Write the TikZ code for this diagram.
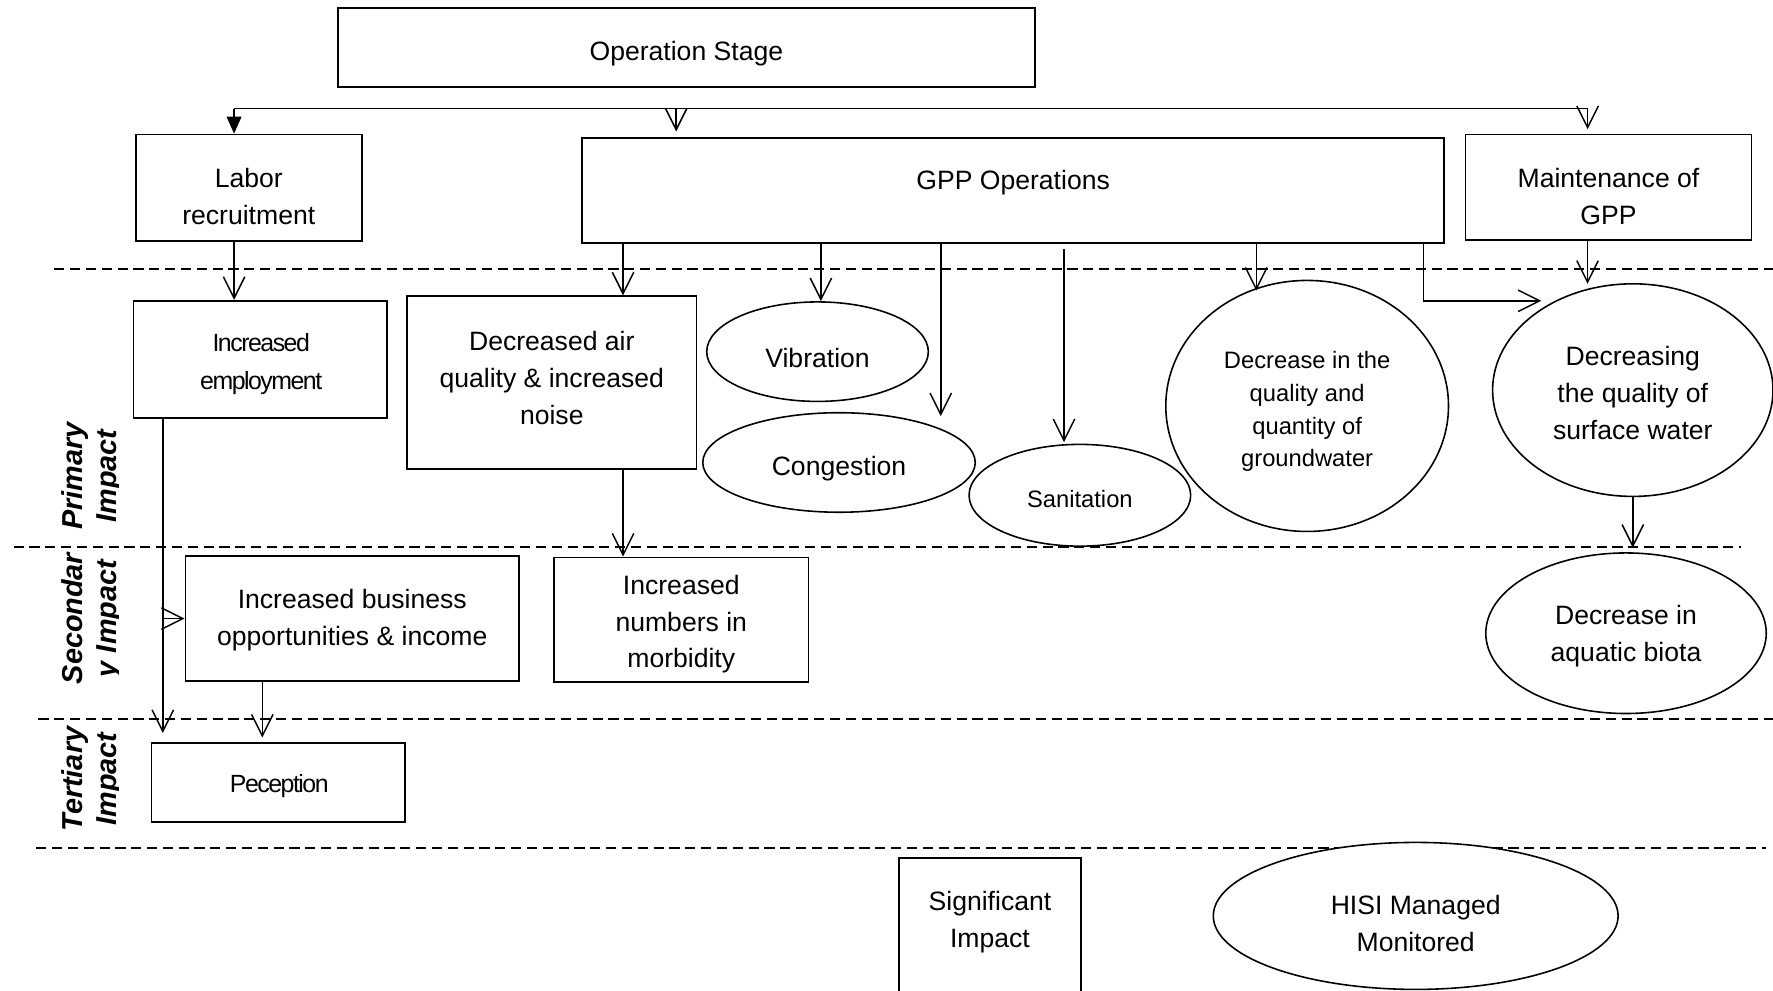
\documentclass[tikz,border=0pt]{standalone}
\usepackage{fontspec}
\setmainfont{Liberation Sans}
\usetikzlibrary{arrows.meta,shapes.geometric}
\begin{document}
\begin{tikzpicture}[x=1pt,y=-1pt,
  box/.style={draw, line width=1.6pt, rectangle, fill=white, inner sep=0pt},
  oval/.style={draw, line width=1.4pt, ellipse, fill=white, inner sep=0pt},
  txt/.style={inner sep=0pt, align=center, font=\fontsize{23.5}{32.5}\selectfont},
  small/.style={inner sep=0pt, align=center, font=\fontsize{21}{29}\selectfont},
  tight/.style={inner sep=0pt, align=center, font=\fontsize{22}{33}\selectfont\addfontfeature{LetterSpace=-6}},
  sep/.style={dash pattern=on 9pt off 5pt, line width=1.6pt},
  wire/.style={line width=1.3pt},
  con/.style={line width=1.3pt, -{Straight Barb[length=19pt,width=19pt,line width=1.3pt]}},
  lvl/.style={rotate=90, inner sep=0pt, align=center, font=\fontsize{25.5}{30}\selectfont\bfseries\itshape}
]
\clip (0,0) rectangle (1568,876);

% dashed separators
\coordinate (d1a) at (48,238);  \coordinate (d1b) at (1568,238);
\coordinate (d2a) at (12,484);  \coordinate (d2b) at (1540,484);
\coordinate (d3a) at (34,636);  \coordinate (d3b) at (1568,636);
\coordinate (d4a) at (32,750);  \coordinate (d4b) at (1562,750);
\draw[sep] (d1a) -- (d1b);
\draw[sep] (d2a) -- (d2b);
\draw[sep] (d3a) -- (d3b);
\draw[sep] (d4a) -- (d4b);

% level labels
\begin{scope}
\clip (0,300) rectangle (105,760);
\node[lvl] (lp) at (81,421) {Primary\\Impact};
\node[lvl] (ls) at (81,547) {Secondar\\y Impact};
\node[lvl] (lt) at (81,689) {Tertiary\\Impact};
\end{scope}

% shapes
\node[box, minimum width=616, minimum height=70] (op) at (607,42) {};
\node[box, minimum width=200, minimum height=94] (lab) at (220,166) {};
\node[box, minimum width=762, minimum height=93] (gpp) at (896,168.5) {};
\node[box, minimum width=253, minimum height=93] (mnt) at (1422.5,165.5) {};
\node[box, minimum width=224, minimum height=104] (emp) at (230,318) {};
\node[box, minimum width=256, minimum height=153] (air) at (488,338.5) {};
\node[oval, minimum width=196, minimum height=88] (vib) at (723,311) {};
\node[oval, minimum width=241, minimum height=88] (cong) at (742,409) {};
\node[oval, minimum width=196, minimum height=90] (san) at (955,438) {};
\node[oval, minimum width=250, minimum height=222] (gw) at (1156,359) {};
\node[oval, minimum width=248, minimum height=188] (sw) at (1444,345) {};
\node[box, minimum width=295, minimum height=110] (bus) at (311.5,547) {};
\node[box, minimum width=225, minimum height=110] (mor) at (602.5,548) {};
\node[oval, minimum width=248, minimum height=142] (aq) at (1438,560) {};
\node[box, minimum width=224, minimum height=70] (per) at (246,692) {};
\node[box, minimum width=161, minimum height=130] (sig) at (875.5,824) {};
\node[oval, minimum width=358, minimum height=130] (hisi) at (1252,810) {};

% texts
\node[txt] (opt) at (607,47.5) {Operation Stage};
\node[txt] (labt) at (220,174) {Labor\\recruitment};
\node[txt] (gppt) at (896,161.5) {GPP Operations};
\node[txt] (mntt) at (1422.5,174) {Maintenance of\\GPP};
\node[tight] (empt) at (231,322) {Increased\\employment};
\node[txt] (airt) at (488,334.5) {Decreased air\\quality \& increased\\noise};
\node[txt] (vibt) at (723,316.5) {Vibration};
\node[txt] (congt) at (742,414.5) {Congestion};
\node[small] (sant) at (955,441) {Sanitation};
\node[small] (gwt) at (1156,364) {Decrease in the\\quality and\\quantity of\\groundwater};
\node[txt] (swt) at (1444,347.5) {Decreasing\\the quality of\\surface water};
\node[txt] (bust) at (311.5,548.5) {Increased business\\opportunities \& income};
\node[txt] (mort) at (602.5,552) {Increased\\numbers in\\morbidity};
\node[txt] (aqt) at (1438,562.5) {Decrease in\\aquatic biota};
\node[tight] (pert) at (247,695.5) {Peception};
\node[txt] (sigt) at (875.5,815.5) {Significant\\Impact};
\node[txt] (hisit) at (1252,817) {HISI Managed\\Monitored};

% x positions of connectors
\coordinate (bl) at (207,96);
\coordinate (bm) at (598,96);
\coordinate (br) at (1404,96);
\coordinate (xa) at (551,0);
\coordinate (xv) at (726,0);
\coordinate (xc) at (832,0);
\coordinate (xg) at (1111,0);
\coordinate (xs) at (1259,0);
\coordinate (xe) at (144,0);
\coordinate (xb) at (232,0);
\coordinate (xw) at (1444,0);
\coordinate (congtip) at (832,368);
\coordinate (sanstart) at (941,220);
\coordinate (santip) at (941,391);
\coordinate (gwtip) at (1111,257);
\coordinate (swbend) at (1259,266);
\coordinate (swtip) at (1363,266);
\coordinate (mnttip) at (1404,251);

% connectors
\draw[wire] (bl) -- (br);
\draw[wire, -{Triangle[length=15pt,width=13pt]}] (bl) -- (bl |- lab.north);
\draw[con, shorten >=5pt] (bm) -- (bm |- gpp.north);
\draw[con, shorten >=4pt] (br) -- (br |- mnt.north);
\draw[con] (lab.south -| bl) -- (emp.north -| bl);
\draw[con] (gpp.south -| xa) -- (air.north -| xa);
\draw[con] (gpp.south -| xv) -- (vib.north -| xv);
\draw[con] (gpp.south -| xc) -- (congtip);
\draw[con] (sanstart) -- (santip);
\draw[con] (gpp.south -| xg) -- (gwtip);
\draw[con] (gpp.south -| xs) -- (swbend) -- (swtip);
\draw[con] (mnt.south -| br) -- (mnttip);
\draw[con, shorten >=8pt] (emp.south -| xe) -- (per.north -| xe);
\draw[con] (xe |- bus.west) -- (bus.west);
\draw[con] (air.south -| xa) -- (mor.north -| xa);
\draw[con, shorten >=4pt] (bus.south -| xb) -- (per.north -| xb);
\draw[con, shorten >=4pt] (sw.south -| xw) -- (aq.north -| xw);
\end{tikzpicture}
\end{document}
